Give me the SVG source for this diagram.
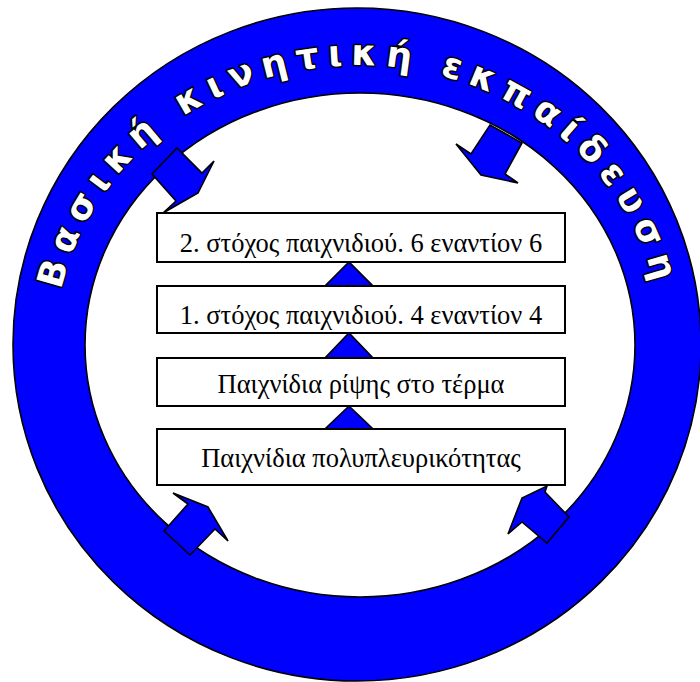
<svg xmlns="http://www.w3.org/2000/svg" width="700" height="682" viewBox="0 0 700 682">
<style>
.ring{fill:#0000ff;stroke:#000;stroke-width:1.6;fill-rule:evenodd}
.arrow{fill:#0000ff;stroke:#000;stroke-width:1.6;stroke-linejoin:miter}
.box{fill:#fff;stroke:#000;stroke-width:2}
.lbl{font-size:26.5px;fill:#000;text-anchor:middle}
.arc{font-family:"DejaVu Sans",Verdana,sans-serif;font-weight:bold;font-size:36px;fill:#fff;stroke:#000;stroke-width:3;paint-order:stroke;stroke-linejoin:round;letter-spacing:8.5px}
</style>
<defs>
<path id="arcPath" d="M 55.5 345 A 303 280 0 0 1 661.5 345"/>
</defs>
<g id="ring">
<path class="ring" d="M 13 344.5 A 344 336.5 0 1 0 701 344.5 A 344 336.5 0 1 0 13 344.5 Z M 85 345 A 275 252 0 1 0 635 345 A 275 252 0 1 0 85 345 Z"/>
<text class="arc"><textPath href="#arcPath" startOffset="50%" text-anchor="middle">Βασική κινητική εκπαίδευση</textPath></text>
</g>
<g id="connectors">
<polygon class="arrow" points="152,174 177,148 202,173 214,161 198,193 163,213 176,201"/>
<polygon class="arrow" points="490,125 522,143 505,174 518,183 481,175 456,144 471,154"/>
<polygon class="arrow" points="164,531 188,504 173,493 208,507 228,541 215,529 190,555"/>
<polygon class="arrow" points="547,486 545,492 569,517 547,543 522,522 508,534 522,498"/>
<polygon class="arrow" points="325,286 373,286 349,262"/>
<polygon class="arrow" points="325,358 373,358 349,333"/>
<polygon class="arrow" points="325,429 373,429 349,406"/>
</g>
<g id="node-2" font-family="'Liberation Serif', 'DejaVu Serif', serif">
<rect class="box" x="157" y="213" width="408" height="49"/>
<text class="lbl" x="361" y="252">2. στόχος παιχνιδιού. 6 εναντίον 6</text>
</g>
<g id="node-1" font-family="'Liberation Serif', 'DejaVu Serif', serif">
<rect class="box" x="157" y="286" width="408" height="47"/>
<text class="lbl" x="361" y="324">1. στόχος παιχνιδιού. 4 εναντίον 4</text>
</g>
<g id="node-throw" font-family="'Liberation Serif', 'DejaVu Serif', serif">
<rect class="box" x="157" y="358" width="408" height="48"/>
<text class="lbl" x="361" y="393">Παιχνίδια ρίψης στο τέρμα</text>
</g>
<g id="node-versatility" font-family="'Liberation Serif', 'DejaVu Serif', serif">
<rect class="box" x="157" y="429" width="408" height="56"/>
<text class="lbl" x="361" y="467">Παιχνίδια πολυπλευρικότητας</text>
</g>
</svg>
